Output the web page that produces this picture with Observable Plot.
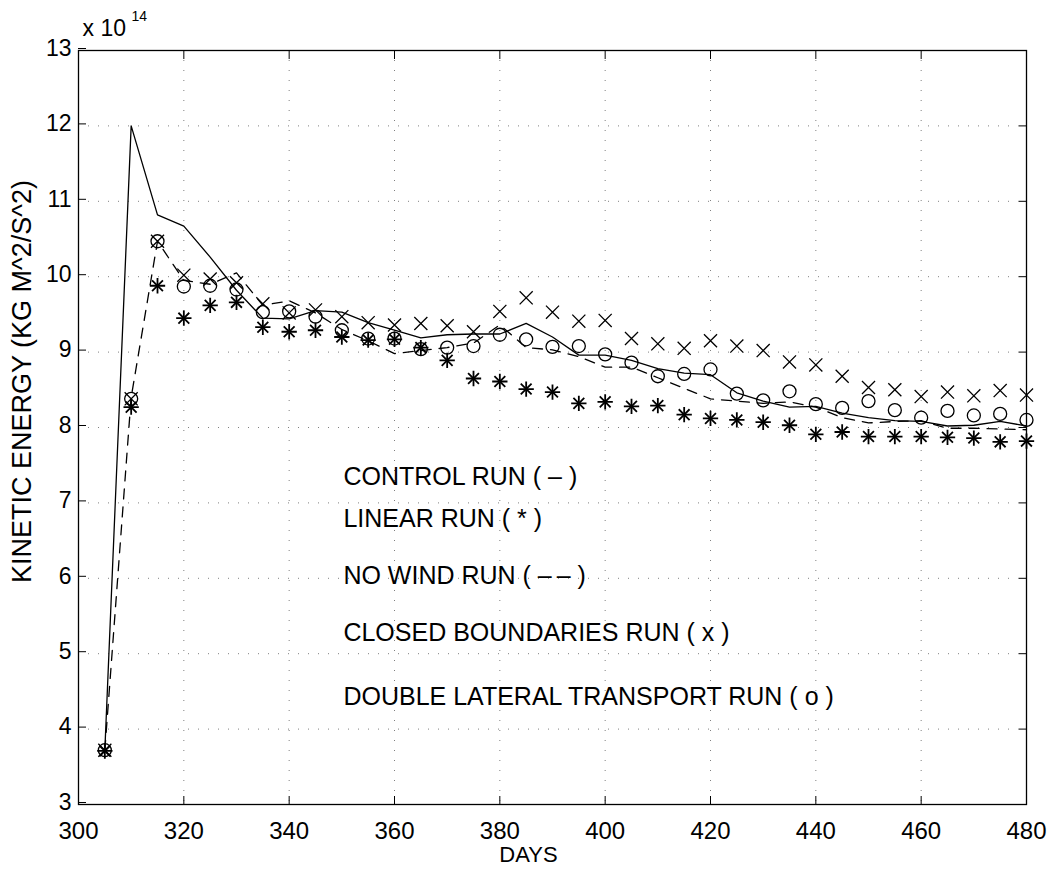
<!DOCTYPE html>
<html>
<head>
<meta charset="utf-8">
<script src="https://cdn.jsdelivr.net/npm/d3@7"></script>
<script src="https://cdn.jsdelivr.net/npm/@observablehq/plot@0.6"></script>
<style>
  html, body { margin: 0; padding: 0; background: #fff; }
  #chart svg { font-family: "Liberation Sans", Arial, Helvetica, sans-serif; }
</style>
</head>
<body>
<div id="chart"></div>
<script>
// ---- data (kinetic energy, units of 1e14 kg m^2/s^2) ----
const days = [305, 310, 315, 320, 325, 330, 335, 340, 345, 350, 355, 360, 365, 370, 375, 380, 385, 390,
              395, 400, 405, 410, 415, 420, 425, 430, 435, 440, 445, 450, 455, 460, 465, 470, 475, 480];

const controlRun = [3.72, 12.0, 10.82, 10.67, 10.26, 9.82, 9.45, 9.44, 9.55, 9.53, 9.39, 9.29, 9.19, 9.23, 9.24, 9.24, 9.38, 9.20,
                    8.96, 8.96, 8.89, 8.78, 8.72, 8.70, 8.46, 8.35, 8.27, 8.28, 8.19, 8.13, 8.09, 8.08, 8.02, 8.03, 8.08, 8.02];

const linearRun = [3.71, 8.27, 9.88, 9.45, 9.62, 9.66, 9.33, 9.27, 9.29, 9.20, 9.16, 9.17, 9.06, 8.89, 8.65, 8.61, 8.51, 8.47,
                   8.32, 8.34, 8.28, 8.29, 8.17, 8.12, 8.10, 8.07, 8.03, 7.91, 7.94, 7.88, 7.88, 7.88, 7.87, 7.86, 7.81, 7.82];

const noWindRun = [3.72, 8.40, 10.47, 9.95, 9.90, 10.05, 9.62, 9.68, 9.52, 9.30, 9.15, 8.98, 9.02, 9.06, 9.12, 9.36, 9.06, 9.03,
                   8.94, 8.80, 8.80, 8.66, 8.52, 8.38, 8.35, 8.32, 8.34, 8.27, 8.13, 8.06, 8.08, 8.09, 7.99, 7.99, 7.98, 7.97];

const closedBoundariesRun = [3.72, 8.38, 10.47, 10.02, 9.97, 9.92, 9.64, 9.52, 9.56, 9.47, 9.39, 9.36, 9.38, 9.35, 9.27, 9.54, 9.72, 9.53,
                             9.41, 9.42, 9.18, 9.11, 9.05, 9.15, 9.08, 9.02, 8.87, 8.83, 8.68, 8.53, 8.50, 8.41, 8.47, 8.42, 8.49, 8.43];

const doubleLateralRun = [3.72, 8.38, 10.47, 9.87, 9.88, 9.83, 9.53, 9.54, 9.47, 9.29, 9.18, 9.18, 9.04, 9.06, 9.08, 9.23, 9.17, 9.07,
                          9.08, 8.97, 8.86, 8.68, 8.71, 8.77, 8.45, 8.36, 8.48, 8.31, 8.26, 8.35, 8.23, 8.13, 8.22, 8.16, 8.18, 8.10];

const xTicks = [300, 320, 340, 360, 380, 400, 420, 440, 460, 480];
const yTicks = [3, 4, 5, 6, 7, 8, 9, 10, 11, 12, 13];

const legendLabels = ["CONTROL RUN ( \u2013 )", "LINEAR RUN ( * )", "NO WIND RUN ( \u2013\u2009\u2013 )",
                      "CLOSED BOUNDARIES RUN ( x )", "DOUBLE LATERAL TRANSPORT RUN ( o )"];
// annotation anchors (data coordinates) for the in-plot legend lines
const legendDay = 350.3;
const legendLevel = [7.35, 6.79, 6.03, 5.27, 4.43];

const xLabel = "DAYS";
const yLabel = "KINETIC ENERGY (KG M^2/S^2)";
const exponentBase = "x 10";
const exponentPower = "14";

// ---- build table ----
const rows = days.map((d, i) => ({
  day: d,
  control: controlRun[i],
  linear: linearRun[i],
  noWind: noWindRun[i],
  closed: closedBoundariesRun[i],
  dbl: doubleLateralRun[i]
}));
const legendRows = legendLabels.map((t, i) => ({text: t, level: legendLevel[i]}));

const ink = "#000";
const gridStyle = {stroke: ink, strokeOpacity: 0.5, strokeDasharray: "1,9", strokeWidth: 1};

const chart = Plot.plot({
  width: 1049,
  height: 870,
  marginLeft: 78,
  marginRight: 23,
  marginTop: 50,
  marginBottom: 66,
  style: {fontFamily: '"Liberation Sans", Arial, Helvetica, sans-serif', color: ink, background: "#fff", fontSize: "22px"},
  x: {domain: [300, 480]},
  y: {domain: [3, 13]},
  marks: [
    Plot.gridX(xTicks, gridStyle),
    Plot.gridY(yTicks, gridStyle),
    Plot.frame({stroke: ink, strokeWidth: 1.3}),
    Plot.axisX(xTicks, {anchor: "bottom", tickSize: -8, tickPadding: 25, fontSize: 24, label: null, stroke: ink, tickFormat: d3.format("d")}),
    Plot.axisX(xTicks, {anchor: "top", tickSize: -8, tickFormat: () => "", label: null, stroke: ink}),
    Plot.axisY(yTicks, {anchor: "left", tickSize: -8, tickPadding: 15, dy: -2, fontSize: 23, label: null, stroke: ink, tickFormat: d3.format("d")}),
    Plot.axisY(yTicks, {anchor: "right", tickSize: -8, tickFormat: () => "", label: null, stroke: ink}),

    Plot.line(rows, {x: "day", y: "control", stroke: ink, strokeWidth: 1.3}),
    Plot.line(rows, {x: "day", y: "noWind", stroke: ink, strokeWidth: 1.3, strokeDasharray: "10,8"}),

    Plot.dot(rows, {x: "day", y: "linear", symbol: "plus", r: 5, stroke: ink, strokeWidth: 1.8}),
    Plot.dot(rows, {x: "day", y: "linear", symbol: "times", r: 5, stroke: ink, strokeWidth: 1.8}),
    Plot.dot(rows, {x: "day", y: "closed", symbol: "times", r: 6, stroke: ink, strokeWidth: 1.3}),
    Plot.dot(rows, {x: "day", y: "dbl", symbol: "circle", r: 6.5, stroke: ink, strokeWidth: 1.3, fill: "none"}),

    Plot.text(legendRows, {x: () => legendDay, y: "level", text: "text", textAnchor: "start", lineAnchor: "middle", fontSize: 25, fill: ink}),

    Plot.text([exponentBase], {frameAnchor: "top-left", dx: 4, dy: -22, textAnchor: "start", lineAnchor: "middle", fontSize: 23, fill: ink}),
    Plot.text([exponentPower], {frameAnchor: "top-left", dx: 53, dy: -34, textAnchor: "start", lineAnchor: "middle", fontSize: 14, fill: ink}),
    Plot.text([yLabel], {frameAnchor: "left", rotate: -90, dx: -56, dy: -46, textAnchor: "middle", lineAnchor: "middle", fontSize: 27, fill: ink}),
    Plot.text([xLabel], {frameAnchor: "bottom", dx: -24, dy: 50, textAnchor: "middle", lineAnchor: "middle", fontSize: 22, fill: ink})
  ]
});

document.getElementById("chart").appendChild(chart);
</script>
</body>
</html>
